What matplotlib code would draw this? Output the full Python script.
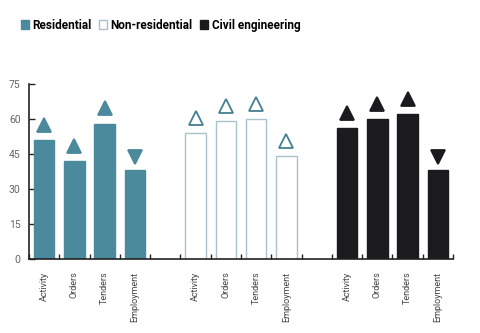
import matplotlib
matplotlib.use("Agg")
import matplotlib.pyplot as plt
from matplotlib.patches import Patch
import numpy as np

plt.rcParams["font.family"] = ["Roboto", "DejaVu Sans"]

sectors = ["Residential", "Non-residential", "Civil engineering"]
indicators = ["Activity", "Orders", "Tenders", "Employment"]
residential = [51, 42, 58, 38]
non_residential = [54, 59, 60, 44]
civil = [56, 60, 62, 38]
# direction of change arrow: 1 = up, -1 = down
res_dir = [1, 1, 1, -1]
nonres_dir = [1, 1, 1, 1]
civil_dir = [1, 1, 1, -1]
yticks = [0, 15, 30, 45, 60, 75]

TEAL = "#4a8a9c"
BLACK = "#1b1a1f"
EDGE_LIGHT = "#a8c3cb"
TRI_EDGE = "#44808f"

fig = plt.figure(figsize=(4.8, 3.33), dpi=100)
ax = fig.add_axes([29/480, 1-259/333, (453-29)/480, (259-84)/333])

series = [residential, non_residential, civil]
dirs = [res_dir, nonres_dir, civil_dir]
styles = [
    dict(face=TEAL, edge=TEAL, mface=TEAL, medge=TEAL),
    dict(face="white", edge=EDGE_LIGHT, mface="white", medge=TRI_EDGE),
    dict(face=BLACK, edge=BLACK, mface=BLACK, medge=BLACK),
]

positions, labels = [], []
for g, (vals, dd, st) in enumerate(zip(series, dirs, styles)):
    xs = np.arange(4) + g * 5
    ax.bar(xs, vals, width=0.68, color=st["face"], edgecolor=st["edge"], linewidth=1.0, zorder=2)
    for x, v, d in zip(xs, vals, dd):
        if d > 0:
            ax.plot(x, v + 6.6, marker="^", ms=10, mfc=st["mface"], mec=st["medge"],
                    mew=1.3, ls="none", zorder=3, clip_on=False)
        else:
            ax.plot(x, v + 5.6, marker="v", ms=10, mfc=st["mface"], mec=st["medge"],
                    mew=1.3, ls="none", zorder=3, clip_on=False)
    positions += list(xs)
    labels += indicators

ax.set_xlim(-0.5, 13.5)
ax.set_ylim(0, 75)
ax.set_yticks(yticks)
ax.set_yticklabels([str(t) for t in yticks])
ax.set_xticks(positions)
ax.set_xticklabels(labels, rotation=90, fontsize=6.5, color="#444444")
ax.set_xticks(np.arange(-0.5, 14, 1.0), minor=True)
ax.tick_params(axis="x", which="major", length=0, pad=9)
ax.tick_params(axis="x", which="minor", direction="in", length=3.5, width=1.0, color="#222222")
ax.tick_params(axis="y", direction="in", length=4, width=1.0, color="#222222",
               labelsize=7.5, labelcolor="#666666", pad=6)
for s in ["top", "right"]:
    ax.spines[s].set_visible(False)
for s in ["left", "bottom"]:
    ax.spines[s].set_color("#222222")
    ax.spines[s].set_linewidth(1.2)

handles = [
    Patch(facecolor=TEAL, edgecolor=TEAL),
    Patch(facecolor="white", edgecolor=EDGE_LIGHT),
    Patch(facecolor=BLACK, edgecolor=BLACK),
]
fig.legend(handles, sectors, loc="upper left", bbox_to_anchor=(16/480, 1-14/333), ncol=3,
           frameon=False, handlelength=0.7, handleheight=0.7, handletextpad=0.3,
           columnspacing=0.6, prop=dict(size=8.5, weight="semibold"), borderaxespad=0)

fig.savefig("out.png", dpi=100)
